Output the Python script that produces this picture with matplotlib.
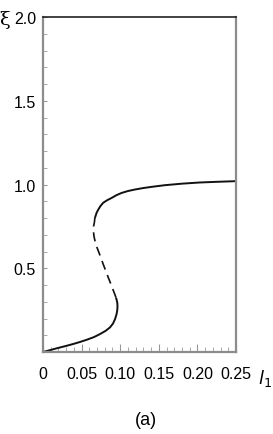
import numpy as np
import matplotlib
matplotlib.use('Agg')
import matplotlib.pyplot as plt
from matplotlib.ticker import MultipleLocator

plt.rcParams['font.family'] = ['Liberation Sans', 'DejaVu Sans']

# lower stable branch (solid)
l1_low = [0.000, 0.009, 0.0177, 0.028, 0.0393, 0.048, 0.0566, 0.066, 0.0738, 0.081, 0.0868,
          0.0907, 0.0933, 0.0953, 0.0962, 0.0965, 0.0963, 0.0955, 0.0945]
xi_low = [0.000, 0.011, 0.022, 0.034, 0.048, 0.060, 0.073, 0.089, 0.107, 0.126, 0.147,
          0.170, 0.196, 0.226, 0.250, 0.272, 0.292, 0.310, 0.325]

# unstable branch (dashed)
l1_mid = [0.0945, 0.093, 0.091, 0.088, 0.0846, 0.0813, 0.078, 0.0748, 0.0717, 0.0690, 0.0674,
          0.0660, 0.0653, 0.0655, 0.0665, 0.0672]
xi_mid = [0.325, 0.345, 0.368, 0.405, 0.444, 0.484, 0.524, 0.565, 0.603, 0.635, 0.662,
          0.692, 0.722, 0.750, 0.772, 0.800]

# upper stable branch (solid)
l1_up = [0.0672, 0.068, 0.0695, 0.0717, 0.0745, 0.078, 0.083, 0.089, 0.095, 0.102, 0.110,
         0.119, 0.130, 0.1408, 0.158, 0.180, 0.203, 0.225, 0.250]
xi_up = [0.800, 0.811, 0.832, 0.851, 0.872, 0.891, 0.906, 0.920, 0.936, 0.950, 0.961,
         0.970, 0.979, 0.986, 0.996, 1.005, 1.012, 1.016, 1.020]

xticks = [0, 0.05, 0.10, 0.15, 0.20, 0.25]
xticklabels = ['0', '0.05', '0.10', '0.15', '0.20', '0.25']
yticks = [0.5, 1.0, 1.5, 2.0]
yticklabels = ['0.5', '1.0', '1.5', '2.0']

fig = plt.figure(figsize=(2.73, 4.35), dpi=100)
ax = fig.add_axes([0.1575, 0.1885, 0.707, 0.7701])

ax.plot(l1_low, xi_low, color='#111111', lw=1.4, solid_capstyle='butt', solid_joinstyle='round')
ax.plot(l1_mid, xi_mid, color='#111111', lw=1.2, dashes=(5.5, 3.5))
ax.plot(l1_up, xi_up, color='#111111', lw=1.4, solid_capstyle='butt', solid_joinstyle='round')

ax.set_xlim(0, 0.25)
ax.set_ylim(0, 2.0)

ax.set_xticks(xticks)
ax.set_xticklabels(xticklabels)
ax.set_yticks(yticks)
ax.set_yticklabels(yticklabels)
ax.xaxis.set_minor_locator(MultipleLocator(0.01))
ax.yaxis.set_minor_locator(MultipleLocator(0.1))

ax.tick_params(axis='both', which='both', direction='in', color='#999999', labelsize=11.5)
ax.tick_params(axis='x', which='major', length=6, width=0.8, pad=10)
ax.tick_params(axis='x', which='minor', length=3.5, width=0.6)
ax.tick_params(axis='y', which='major', length=3, width=0.8, pad=5)
ax.tick_params(axis='y', which='minor', length=3, width=0.6)

for s in ['left', 'right', 'bottom']:
    ax.spines[s].set_color('#8c8c8c')
    ax.spines[s].set_linewidth(1.6)
ax.spines['top'].set_color('#222222')
ax.spines['top'].set_linewidth(1.2)

# axis names
fig.text(5 / 273, 1 - 20 / 435, '\u03be', fontsize=14, ha='center', va='center', family='DejaVu Serif')
fig.text(258 / 273, 1 - 379 / 435, '$l_1$', fontsize=13, ha='left', va='center')
fig.text(146 / 273, 1 - 421 / 435, '(a)', fontsize=13, ha='center', va='center')

fig.savefig('out.png', dpi=100)
